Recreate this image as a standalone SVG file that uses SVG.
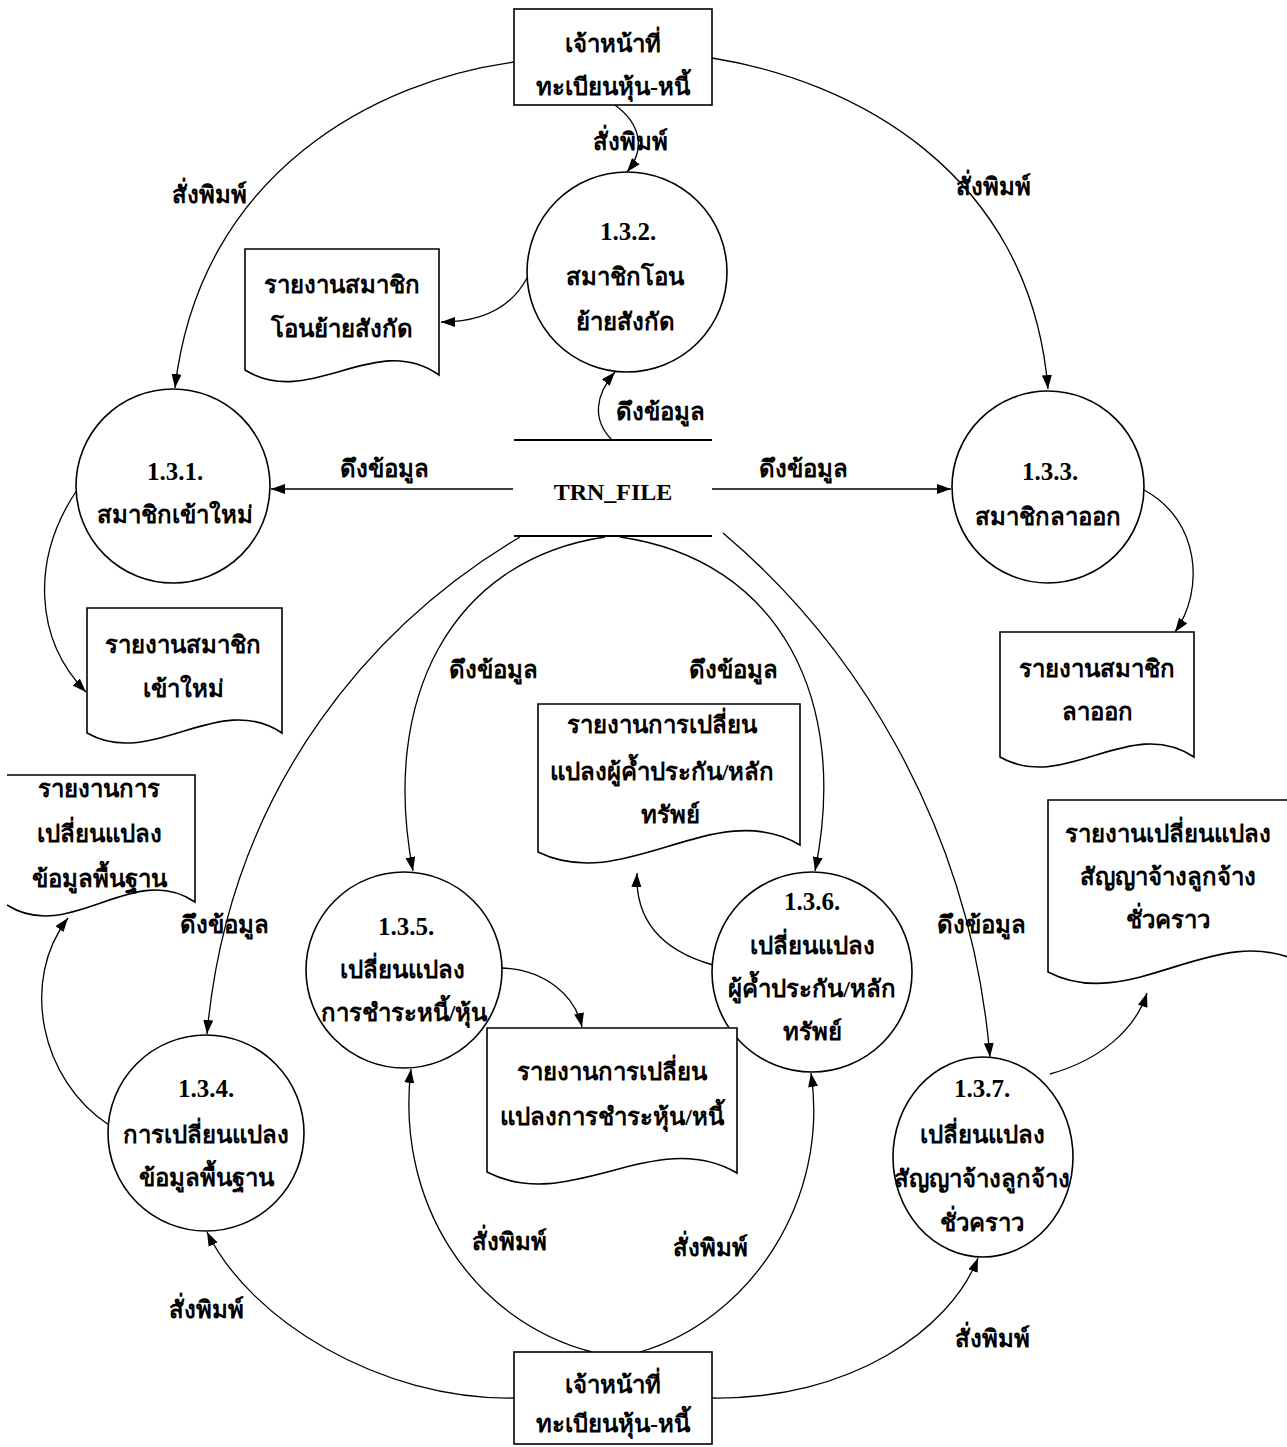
<svg xmlns="http://www.w3.org/2000/svg" width="1287" height="1447" viewBox="0 0 1287 1447">
  <style>
    .shape { fill: #fff; stroke: #000; stroke-width: 1.6; }
    .doc { fill: #fff; stroke: #000; stroke-width: 1.6; }
    .flow { fill: none; stroke: #000; stroke-width: 1.3; }
    .store { stroke: #000; stroke-width: 1.8; }
    text { font-family: "Liberation Serif", "Noto Sans", serif; font-size: 24px; font-weight: bold; fill: #000; text-anchor: middle; }
    .num { font-size: 25px; }
    .code { font-family: "Liberation Serif", serif; font-size: 24px; }
  </style>
  <defs>
    <marker id="arrow" viewBox="0 0 14 10" refX="14" refY="5" markerWidth="14" markerHeight="10" markerUnits="userSpaceOnUse" orient="auto">
      <path d="M0,0 L14,5 L0,10 Z" fill="#000"/>
    </marker>
  </defs>
  <rect width="1287" height="1447" fill="#fff"/>

  <!-- data flows -->
  <g id="connectors">
    <path class="flow" d="M514,62 C380,80 200,170 175,388" marker-end="url(#arrow)"/>
    <path class="flow" d="M712,58 C850,80 1030,170 1048,389" marker-end="url(#arrow)"/>
    <path class="flow" d="M615,105 C642,125 645,150 627,172" marker-end="url(#arrow)"/>
    <path class="flow" d="M527,278 C510,310 480,322 441,322" marker-end="url(#arrow)"/>
    <path class="flow" d="M612,440 C592,420 595,395 615,372" marker-end="url(#arrow)"/>
    <path class="flow" d="M513,489 H271" marker-end="url(#arrow)"/>
    <path class="flow" d="M712,489 H951" marker-end="url(#arrow)"/>
    <path class="flow" d="M77,490 C30,560 35,640 86,692" marker-end="url(#arrow)"/>
    <path class="flow" d="M1144,490 C1200,520 1205,590 1175,632" marker-end="url(#arrow)"/>
    <path class="flow" d="M520,537 C380,620 230,780 207,1034" marker-end="url(#arrow)"/>
    <path class="flow" d="M605,537 C450,560 380,700 413,871" marker-end="url(#arrow)"/>
    <path class="flow" d="M620,537 C780,560 850,700 815,871" marker-end="url(#arrow)"/>
    <path class="flow" d="M723,533 C850,640 970,820 990,1057" marker-end="url(#arrow)"/>
    <path class="flow" d="M109,1125 C40,1080 20,980 68,918" marker-end="url(#arrow)"/>
    <path class="flow" d="M502,968 C545,970 575,995 582,1027" marker-end="url(#arrow)"/>
    <path class="flow" d="M713,965 C660,950 635,920 637,873" marker-end="url(#arrow)"/>
    <path class="flow" d="M1050,1074 C1100,1060 1135,1030 1147,993" marker-end="url(#arrow)"/>
    <path class="flow" d="M514,1398 C380,1400 250,1320 207,1232" marker-end="url(#arrow)"/>
    <path class="flow" d="M712,1398 C850,1400 950,1330 978,1258" marker-end="url(#arrow)"/>
    <path class="flow" d="M592,1352 C470,1320 395,1200 411,1069" marker-end="url(#arrow)"/>
    <path class="flow" d="M640,1352 C750,1320 830,1200 811,1073" marker-end="url(#arrow)"/>
  </g>

  <!-- flow labels -->
  <g id="flow-labels">
    <text x="630" y="150">สั่งพิมพ์</text>
    <text x="209" y="203">สั่งพิมพ์</text>
    <text x="993" y="195">สั่งพิมพ์</text>
    <text x="660" y="420">ดึงข้อมูล</text>
    <text x="384" y="477">ดึงข้อมูล</text>
    <text x="803" y="477">ดึงข้อมูล</text>
    <text x="493" y="678">ดึงข้อมูล</text>
    <text x="733" y="678">ดึงข้อมูล</text>
    <text x="224" y="933">ดึงข้อมูล</text>
    <text x="981" y="933">ดึงข้อมูล</text>
    <text x="509" y="1250">สั่งพิมพ์</text>
    <text x="710" y="1256">สั่งพิมพ์</text>
    <text x="206" y="1318">สั่งพิมพ์</text>
    <text x="992" y="1347">สั่งพิมพ์</text>
  </g>

  <!-- external entity: registrar (top) -->
  <g id="entity-top">
    <rect class="shape" x="514" y="9" width="198" height="96"/>
    <text x="613" y="52">เจ้าหน้าที่</text>
    <text x="613" y="95">ทะเบียนหุ้น-หนี้</text>
  </g>

  <!-- external entity: registrar (bottom) -->
  <g id="entity-bottom">
    <rect class="shape" x="514" y="1352" width="198" height="92"/>
    <text x="613" y="1393">เจ้าหน้าที่</text>
    <text x="613" y="1432">ทะเบียนหุ้น-หนี้</text>
  </g>

  <!-- data store -->
  <g id="store-trn">
    <line class="store" x1="514" y1="440" x2="712" y2="440"/>
    <line class="store" x1="514" y1="536" x2="712" y2="536"/>
    <text class="code" x="613" y="500">TRN_FILE</text>
  </g>

  <!-- processes -->
  <g id="p131">
    <circle class="shape" cx="173" cy="486" r="97"/>
    <text class="num" x="175" y="480">1.3.1.</text>
    <text x="175" y="523">สมาชิกเข้าใหม่</text>
  </g>
  <g id="p132">
    <circle class="shape" cx="627" cy="272" r="100"/>
    <text class="num" x="628" y="240">1.3.2.</text>
    <text x="625" y="285">สมาชิกโอน</text>
    <text x="625" y="330">ย้ายสังกัด</text>
  </g>
  <g id="p133">
    <circle class="shape" cx="1048" cy="487" r="96"/>
    <text class="num" x="1050" y="480">1.3.3.</text>
    <text x="1048" y="525">สมาชิกลาออก</text>
  </g>
  <g id="p134">
    <circle class="shape" cx="206" cy="1133" r="98"/>
    <text class="num" x="206" y="1097">1.3.4.</text>
    <text x="206" y="1143">การเปลี่ยนแปลง</text>
    <text x="206" y="1186">ข้อมูลพื้นฐาน</text>
  </g>
  <g id="p135">
    <circle class="shape" cx="404" cy="970" r="98"/>
    <text class="num" x="406" y="935">1.3.5.</text>
    <text x="402" y="978">เปลี่ยนแปลง</text>
    <text x="404" y="1021">การชำระหนี้/หุ้น</text>
  </g>
  <g id="p136">
    <circle class="shape" cx="812" cy="972" r="100"/>
    <text class="num" x="812" y="910">1.3.6.</text>
    <text x="812" y="954">เปลี่ยนแปลง</text>
    <text x="812" y="997">ผู้ค้ำประกัน/หลัก</text>
    <text x="812" y="1040">ทรัพย์</text>
  </g>
  <g id="p137">
    <ellipse class="shape" cx="983" cy="1157" rx="90" ry="100"/>
    <text class="num" x="982" y="1097">1.3.7.</text>
    <text x="982" y="1143">เปลี่ยนแปลง</text>
    <text x="982" y="1187">สัญญาจ้างลูกจ้าง</text>
    <text x="982" y="1231">ชั่วคราว</text>
  </g>

  <!-- reports (document shapes) -->
  <g id="doc-transfer">
    <path class="doc" d="M245,249 H439 V375 C375,330 310,410 245,370 Z"/>
    <text x="342" y="293">รายงานสมาชิก</text>
    <text x="342" y="337">โอนย้ายสังกัด</text>
  </g>
  <g id="doc-new">
    <path class="doc" d="M87,608 H282 V733 C218,690 152,770 87,733 Z"/>
    <text x="183" y="653">รายงานสมาชิก</text>
    <text x="183" y="697">เข้าใหม่</text>
  </g>
  <g id="doc-resign">
    <path class="doc" d="M1000,632 H1194 V757 C1130,714 1064,794 1000,757 Z"/>
    <text x="1097" y="677">รายงานสมาชิก</text>
    <text x="1097" y="720">ลาออก</text>
  </g>
  <g id="doc-basic">
    <path class="doc" d="M7,775 H195 V902 C133,860 70,945 7,905"/>
    <text x="99" y="797">รายงานการ</text>
    <text x="99" y="842">เปลี่ยนแปลง</text>
    <text x="99" y="887">ข้อมูลพื้นฐาน</text>
  </g>
  <g id="doc-guarantor">
    <path class="doc" d="M538,704 H800 V845 C715,795 625,895 538,852 Z"/>
    <text x="662" y="733">รายงานการเปลี่ยน</text>
    <text x="662" y="780">แปลงผู้ค้ำประกัน/หลัก</text>
    <text x="670" y="823">ทรัพย์</text>
  </g>
  <g id="doc-payment">
    <path class="doc" d="M487,1028 H737 V1173 C655,1125 570,1215 487,1172 Z"/>
    <text x="612" y="1080">รายงานการเปลี่ยน</text>
    <text x="612" y="1125">แปลงการชำระหุ้น/หนี้</text>
  </g>
  <g id="doc-contract">
    <path class="doc" d="M1048,800 H1300 V962 C1215,920 1130,1015 1048,972 Z"/>
    <text x="1168" y="842">รายงานเปลี่ยนแปลง</text>
    <text x="1168" y="885">สัญญาจ้างลูกจ้าง</text>
    <text x="1168" y="928">ชั่วคราว</text>
  </g>
</svg>
